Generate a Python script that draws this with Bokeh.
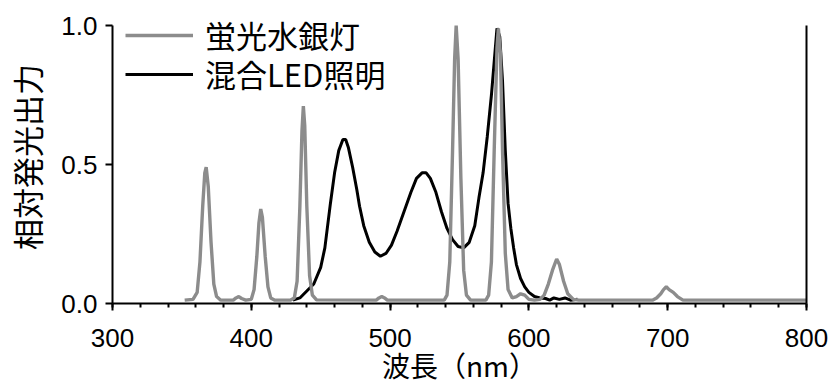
from bokeh.plotting import figure
from bokeh.models import (Range1d, LinearAxis, FixedTicker,
                          NumeralTickFormatter, Legend, LegendItem)
from bokeh.embed import file_html
from bokeh.resources import INLINE

# Mercury fluorescent lamp spectrum (wavelength nm, relative output)
hg_nm = [352, 358, 361, 363, 365, 366.5, 367.5, 369, 371, 373, 375, 378,
         387, 389, 391, 393, 396,
         400, 402, 404, 405.5, 406.8, 408, 410, 412, 414, 417,
         428, 431, 433, 435, 436.5, 437.5, 438.5, 440, 442, 444, 447,
         490, 492, 494, 496, 498,
         539, 541, 543, 545, 546.5, 547.6, 549, 551, 553, 555, 558,
         569, 571, 573, 575, 577, 578, 579.5, 581, 583, 585, 588,
         591, 594, 597, 600, 604,
         608, 611, 614, 617, 620, 622, 625, 628, 632, 636,
         689, 692, 695, 697, 699, 701, 704, 707, 711, 800]
hg_val = [0.012, 0.015, 0.04, 0.15, 0.35, 0.47, 0.49, 0.42, 0.22, 0.07, 0.025, 0.012,
          0.012, 0.02, 0.025, 0.018, 0.012,
          0.015, 0.05, 0.17, 0.29, 0.34, 0.31, 0.17, 0.06, 0.02, 0.012,
          0.012, 0.02, 0.08, 0.35, 0.62, 0.71, 0.64, 0.35, 0.10, 0.03, 0.013,
          0.012, 0.02, 0.025, 0.02, 0.012,
          0.012, 0.03, 0.15, 0.55, 0.88, 1.0, 0.88, 0.45, 0.12, 0.03, 0.012,
          0.012, 0.03, 0.15, 0.55, 0.92, 0.99, 0.90, 0.55, 0.18, 0.05, 0.02,
          0.025, 0.035, 0.03, 0.015, 0.012,
          0.015, 0.03, 0.07, 0.12, 0.16, 0.14, 0.08, 0.035, 0.015, 0.012,
          0.012, 0.02, 0.035, 0.05, 0.06, 0.05, 0.04, 0.025, 0.012, 0.012]

# Mixed LED lighting spectrum
led_nm = [430, 435, 440, 445, 450, 453, 457, 460, 463, 466, 468, 470, 473, 476, 478,
          481, 485, 489, 493, 497, 501, 505, 510, 515, 519, 523, 526, 529, 533,
          537, 541, 545, 549, 553, 557, 561, 564, 567, 570, 573, 575, 577, 579,
          581, 583, 585, 587, 589, 591, 594, 597, 600, 604, 608, 612, 615, 618,
          622, 626, 630, 635]
led_val = [0.012, 0.02, 0.045, 0.07, 0.13, 0.2, 0.36, 0.47, 0.55, 0.59, 0.59, 0.56, 0.49, 0.41, 0.35,
           0.28, 0.22, 0.185, 0.17, 0.18, 0.21, 0.26, 0.33, 0.40, 0.45, 0.47, 0.47, 0.45, 0.40,
           0.33, 0.27, 0.23, 0.205, 0.20, 0.22, 0.28, 0.38, 0.47, 0.60, 0.75, 0.87, 0.99, 0.96,
           0.80, 0.55, 0.36, 0.27, 0.20, 0.14, 0.09, 0.06, 0.04, 0.025, 0.02, 0.018, 0.012, 0.02,
           0.015, 0.02, 0.012, 0.015]

x_ticks = [300, 400, 500, 600, 700, 800]
y_ticks = [0.0, 0.5, 1.0]

legend_hg = "蛍光水銀灯"
legend_led = "混合LED照明"
x_title = "波長（nm）"
y_title = "相対発光出力"

CJK = "Noto Sans CJK JP"
NUM = "Liberation Sans"
GRAY = "#8c8c8c"

# the frame reaches a little above 1.0 so the legend has room; axis lines stop at 1.0
p = figure(width=829, height=388, output_backend="svg", toolbar_location=None,
           x_range=Range1d(300, 800), y_range=Range1d(0, 1.054),
           min_border_left=112, min_border_right=23, min_border_top=10, min_border_bottom=85,
           x_axis_type=None, y_axis_type=None)
p.outline_line_color = None
p.background_fill_color = "white"
p.border_fill_color = "white"

# bottom axis
xa = LinearAxis(ticker=FixedTicker(ticks=x_ticks,
                                   minor_ticks=list(range(300, 801, 20))),
                axis_label=x_title)
# left axis
ya = LinearAxis(ticker=FixedTicker(ticks=y_ticks, minor_ticks=[]),
                formatter=NumeralTickFormatter(format="0.0"), axis_label=y_title,
                bounds=(0, 1))
for ax in (xa, ya):
    ax.axis_line_width = 2
    ax.axis_line_color = "black"
    ax.major_tick_line_width = 2
    ax.minor_tick_line_width = 2
    ax.major_tick_in = 0
    ax.major_tick_out = 7
    ax.minor_tick_in = 0
    ax.minor_tick_out = 4
    ax.major_label_text_font = NUM
    ax.major_label_text_font_size = "26px"
    ax.major_label_text_color = "black"
    ax.axis_label_text_font = CJK
    ax.axis_label_text_font_style = "normal"
    ax.axis_label_text_color = "black"
xa.major_label_standoff = 18
xa.axis_label_text_font_size = "28px"
xa.axis_label_standoff = -5
ya.major_label_standoff = 8
ya.axis_label_text_font_size = "31px"
ya.axis_label_standoff = 9
p.add_layout(xa, "below")
p.add_layout(ya, "left")

# right frame line
ra = LinearAxis(ticker=FixedTicker(ticks=[]), major_tick_line_color=None,
                minor_tick_line_color=None, major_label_text_font_size="0px",
                axis_line_width=2, axis_line_color="black", bounds=(0, 1))
p.add_layout(ra, "right")

r_led = p.line(led_nm, led_val, line_color="black", line_width=3)
r_hg = p.line(hg_nm, hg_val, line_color=GRAY, line_width=3.4)


def legend_row(label, renderer, loc):
    return Legend(items=[LegendItem(label=label, renderers=[renderer])],
                  location=loc, orientation="vertical",
                  padding=0, margin=0, spacing=0,
                  glyph_width=68, glyph_height=30, label_height=30,
                  label_standoff=12, border_line_color=None,
                  background_fill_alpha=0,
                  label_text_font=CJK, label_text_font_size="31px",
                  label_text_color="black")


p.add_layout(legend_row(legend_hg, r_hg, (13, 246)), "center")
p.add_layout(legend_row(legend_led, r_led, (13, 207)), "center")

open("out.html", "w").write(file_html(p, INLINE))
